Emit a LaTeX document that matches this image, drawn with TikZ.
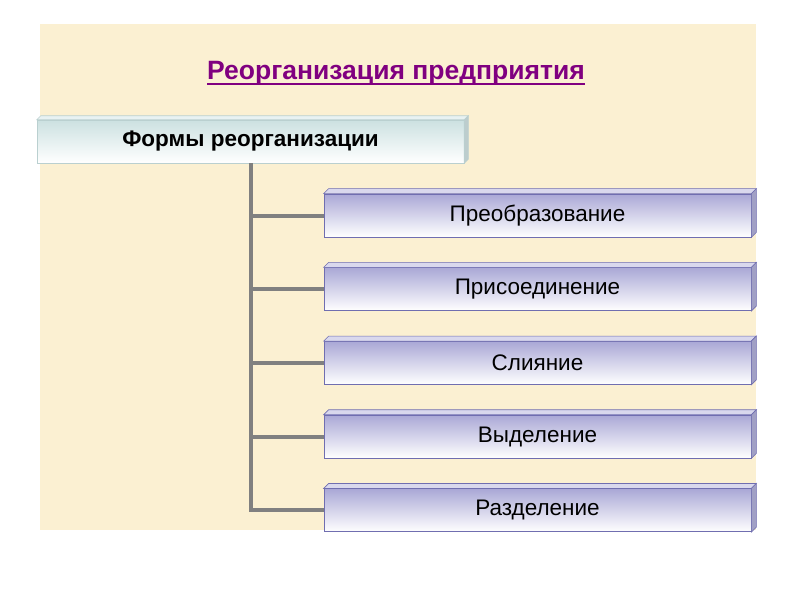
\documentclass[tikz,border=0pt]{standalone}
\usepackage{fontspec}
\setmainfont{Liberation Sans}
\usepackage{xcolor}
\usepackage{tikz}
\usetikzlibrary{positioning, calc}
\definecolor{parchment}{RGB}{251,240,210}
\definecolor{formLilac}{RGB}{170,168,214}
\definecolor{formEdge}{RGB}{112,110,176}
\definecolor{headMint}{RGB}{204,225,225}
\definecolor{headEdge}{RGB}{186,208,208}
\definecolor{linkGray}{RGB}{128,128,128}
\definecolor{titlePurple}{RGB}{128,0,128}
\tikzset{
    formbox/.style={rectangle, minimum width=427pt, minimum height=43pt,
        text centered, draw=formEdge, line width=0.7pt,
        top color=formLilac, bottom color=white, font=\fontsize{22.5}{26}\selectfont},
    headbox/.style={rectangle, minimum width=427pt, minimum height=43pt,
        text centered, draw=headEdge, line width=0.5pt,
        top color=headMint, bottom color=white, font=\bfseries\fontsize{22.5}{26}\selectfont},
    branch/.style={line width=4pt, linkGray},
}
% top and right faces of a slab
\newcommand{\slab}[4]{%
    \filldraw[fill=#3!45, draw=#4, line width=0.6pt] (#1.north west) -- ++(#2,#2)
        -- ($(#1.north east)+(#2,#2)$) -- (#1.north east) -- cycle;
    \filldraw[fill=#3!80!gray, draw=#4, line width=0.6pt] (#1.north east) -- ++(#2,#2)
        -- ($(#1.south east)+(#2,#2)$) -- (#1.south east) -- cycle;
}

\begin{document}
\begin{tikzpicture}[x=1pt, y=-1pt, node distance=30pt]
    \useasboundingbox (0,0) rectangle (800,600);
    % parchment sheet
    \fill[parchment] (40,24) rectangle (756,530);

    % title
    \node[font=\bfseries\fontsize{26.5}{30}\selectfont, text=titlePurple, inner sep=0pt]
        (title) at (396,73) {Реорганизация предприятия};
    \draw[titlePurple, line width=1.8pt] ($(title.base west)+(0pt,-4.5pt)$)
        -- ($(title.base east)+(0pt,-4.5pt)$);

    % heading box
    \node[headbox] (head) at (250.5,141.5) {Формы реорганизации};
    \slab{head}{4pt}{headMint}{headEdge}

    % forms, one under another
    \node[formbox] (conv) at (537.5,215.5) {Преобразование};
    \node[formbox, below=of conv] (merge) {Присоединение};
    \node[formbox, below=of merge] (fuse) {Слияние};
    \node[formbox, below=of fuse] (spin) {Выделение};
    \node[formbox, below=of spin] (split) {Разделение};
    \slab{conv}{5pt}{formLilac}{formEdge}
    \slab{merge}{5pt}{formLilac}{formEdge}
    \slab{fuse}{5pt}{formLilac}{formEdge}
    \slab{spin}{5pt}{formLilac}{formEdge}
    \slab{split}{5pt}{formLilac}{formEdge}

    % tree lines
    \draw[branch] (head.south) |- (conv.west);
    \draw[branch] (head.south) |- (merge.west);
    \draw[branch] (head.south) |- (fuse.west);
    \draw[branch] (head.south) |- (spin.west);
    \draw[branch] (head.south) |- (split.west);
\end{tikzpicture}
\end{document}
